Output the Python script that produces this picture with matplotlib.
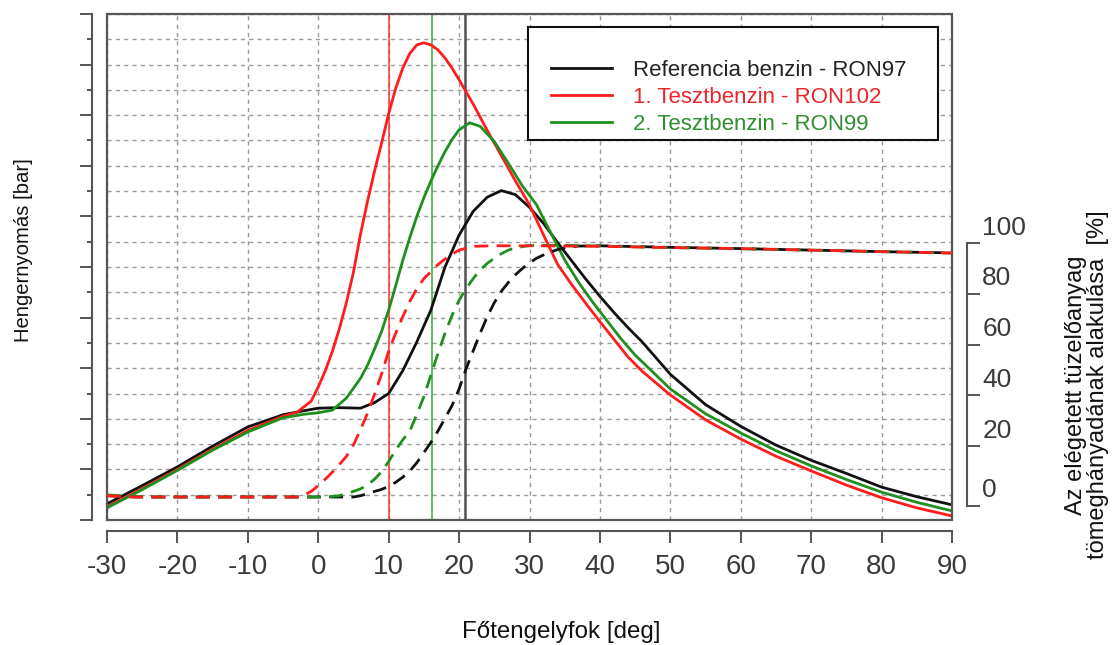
import matplotlib
matplotlib.use("Agg")
import matplotlib.pyplot as plt
from matplotlib.patches import Rectangle
from matplotlib.transforms import ScaledTranslation
from matplotlib.ticker import MultipleLocator

plt.rcParams['font.family'] = ['Liberation Sans', 'DejaVu Sans']
plt.rcParams['axes.unicode_minus'] = False

# ---------------- data ----------------
# Cylinder pressure (arbitrary units, axis unlabeled) vs crank angle [deg]
ref_p_deg = [-30, -25, -20, -15, -10, -5, -2, 0, 3, 6, 8, 10, 12, 14, 16, 18, 20, 22, 24, 26,
             28, 30, 32, 34, 36, 38, 40, 42, 44, 46, 50, 55, 60, 65, 70, 75, 80, 85, 90]
ref_p_val = [3.2, 6.8, 10.5, 14.6, 18.4, 20.8, 21.6, 22.1, 22.2, 22.1, 23.2, 25.0, 29.5, 35.2,
             41.5, 50.0, 56.3, 61.0, 63.8, 65.1, 64.3, 61.8, 58.6, 54.8, 51.2, 47.6, 44.2,
             41.0, 38.0, 35.2, 28.8, 22.8, 18.5, 14.8, 11.8, 9.2, 6.5, 4.6, 3.0]

t1_p_deg = [-30, -25, -20, -15, -10, -5, -3, -1, 0, 1, 2, 3, 4, 5, 6, 7, 8, 9, 10, 11, 12, 13,
            14, 15, 16, 17, 18, 19, 20, 21, 22, 24, 26, 28, 30, 32, 34, 36, 38, 40, 42, 44,
            46, 50, 55, 60, 65, 70, 75, 80, 85, 90]
t1_p_val = [2.6, 6.2, 10.0, 14.0, 17.7, 20.5, 21.3, 23.5, 26.3, 29.5, 33.3, 37.8, 43.0, 49.0,
            56.5, 63.0, 69.0, 74.5, 80.3, 85.3, 89.3, 92.2, 93.9, 94.3, 93.9, 92.9, 91.3, 89.3,
            87.0, 84.6, 82.2, 77.0, 72.0, 67.0, 62.3, 56.3, 50.5, 46.5, 42.8, 39.2, 35.7, 32.2,
            29.4, 24.7, 19.8, 16.0, 12.6, 9.7, 6.9, 4.4, 2.4, 0.8]

t2_p_deg = [-30, -25, -20, -15, -10, -5, -2, 0, 2, 4, 6, 7, 8, 9, 10, 11, 12, 13, 14, 15, 16,
            17, 18, 19, 20, 21.5, 23, 25, 27, 29, 31, 33, 35, 37, 39, 41, 43, 45, 50, 55, 60,
            65, 70, 75, 80, 85, 90]
t2_p_val = [2.4, 6.0, 9.8, 13.8, 17.4, 20.2, 20.9, 21.2, 21.7, 24.1, 28.0, 30.6, 33.8, 37.3,
            41.5, 46.3, 51.3, 55.8, 60.0, 63.7, 67.0, 70.0, 72.8, 75.2, 77.1, 78.5, 77.8, 74.8,
            70.5, 66.0, 62.3, 56.8, 51.4, 46.9, 43.0, 39.4, 35.8, 32.6, 25.9, 21.0, 17.2, 13.7,
            10.7, 8.0, 5.5, 3.5, 1.8]

# Burned mass fraction [%] vs crank angle [deg]
ref_x_deg = [-30, -26, 5, 6, 7, 8, 9, 10, 11, 12, 13, 14, 15, 16, 17, 18, 19, 20, 21, 22, 23,
             24, 25, 26, 27, 28, 29, 30, 31, 32, 33, 34, 35, 37, 40, 50, 60, 70, 80, 90]
ref_x_val = [0.5, 0.0, 0.0, 0.5, 1.3, 2.2, 3.0, 4.2, 5.8, 7.8, 10.2, 13.5, 17.5, 21.5, 26.0,
             31.0, 36.0, 42.5, 50.5, 57.5, 64.5, 71.0, 76.5, 81.0, 84.5, 87.5, 90.0, 92.2, 94.0,
             95.3, 96.5, 97.4, 98.1, 98.8, 98.9, 98.3, 97.8, 97.2, 96.6, 96.1]

t1_x_deg = [-30, -26, -3, -2, -1, 0, 1, 2, 3, 4, 5, 6, 7, 8, 9, 10, 11, 12, 13, 14, 15, 16, 17,
            18, 19, 20, 22, 25, 30, 40, 50, 60, 70, 80, 90]
t1_x_val = [0.5, 0.0, 0.0, 0.8, 2.2, 4.5, 7.0, 9.8, 12.8, 16.0, 20.5, 26.5, 33.0, 40.5, 48.5,
            57.5, 64.5, 71.0, 77.0, 82.0, 86.0, 88.7, 91.5, 93.7, 95.6, 97.2, 98.7, 98.9, 98.9,
            98.7, 98.2, 97.8, 97.2, 96.6, 96.1]

t2_x_deg = [-30, -26, -24, 1, 3, 5, 6, 7, 8, 9, 10, 11, 12, 13, 14, 15, 16, 17, 18, 19, 20, 21,
            22, 23, 24, 25, 26, 27, 28, 30, 35, 40, 50, 60, 70, 80, 90]
t2_x_val = [0.8, 0.3, 0.0, 0.0, 0.5, 2.2, 3.2, 4.8, 7.0, 10.0, 14.0, 18.5, 22.5, 26.0, 32.5,
            39.5, 48.0, 56.5, 64.5, 71.5, 77.5, 82.0, 86.0, 89.4, 92.0, 94.0, 95.8, 97.2, 98.1,
            99.0, 99.1, 98.8, 98.2, 97.7, 97.2, 96.6, 96.0]

# Vertical marker lines (crank angle [deg])
marker_degs = [10.0, 16.1, 20.85]

series_labels = ["Referencia benzin - RON97", "1. Tesztbenzin - RON102", "2. Tesztbenzin - RON99"]
x_ticks = [-30, -20, -10, 0, 10, 20, 30, 40, 50, 60, 70, 80, 90]
pct_tick_pos = [100, 80, 60, 40, 20, -3.5]
pct_tick_labels = ["100", "80", "60", "40", "20", "0"]

# ---------------- styling ----------------
C_BLACK = '#111111'
C_RED = '#ff1c1c'
C_GREEN = '#1f8f1f'
AX_COL = '#555555'
TXT_COL = '#3a3a3a'
LW = 2.0

fig = plt.figure(figsize=(11.13, 6.45), dpi=100)
ax = fig.add_axes([107 / 1113, 125 / 645, 845 / 1113, 506 / 645])
ax.set_xlim(-30, 90)
ax.set_ylim(0, 100)
ax.set_facecolor('white')

# grid
ax.set_xticks(x_ticks)
ax.yaxis.set_major_locator(MultipleLocator(10))
ax.yaxis.set_minor_locator(MultipleLocator(5))
ax.grid(True, which='both', axis='y', color='#9a9a9a', linestyle=(0, (3, 3)), linewidth=1.0)
ax.grid(True, which='major', axis='x', color='#9a9a9a', linestyle=(0, (3, 3)), linewidth=1.0)
ax.set_axisbelow(True)

# spines / separated axes
for s in ['top', 'right']:
    ax.spines[s].set_visible(False)
ax.spines['left'].set_position(('outward', 10.8))
ax.spines['bottom'].set_position(('outward', 7.9))
for s in ['left', 'bottom']:
    ax.spines[s].set_color(AX_COL)
    ax.spines[s].set_linewidth(1.5)
ax.tick_params(axis='y', which='major', length=8.5, width=1.4, color=AX_COL, labelleft=False)
ax.tick_params(axis='y', which='minor', length=3.5, width=1.4, color=AX_COL)
ax.tick_params(axis='x', which='major', length=8.5, width=1.4, color=AX_COL,
               labelsize=20, labelcolor=TXT_COL, pad=8)

# plot box
ax.add_patch(Rectangle((0, 0), 1, 1, transform=ax.transAxes, fill=False,
                       edgecolor=AX_COL, linewidth=1.6, clip_on=False, zorder=10))

# vertical markers
ax.axvline(marker_degs[0], color='#ff3030', linewidth=1.1, zorder=3)
ax.axvline(marker_degs[1], color='#35a835', linewidth=1.1, zorder=3)
ax.axvline(marker_degs[2], color='#505050', linewidth=1.8, zorder=3)

# pressure curves
l_ref, = ax.plot(ref_p_deg, ref_p_val, color=C_BLACK, linewidth=LW, zorder=4)
l_t1, = ax.plot(t1_p_deg, t1_p_val, color=C_RED, linewidth=LW, zorder=4)
l_t2, = ax.plot(t2_p_deg, t2_p_val, color=C_GREEN, linewidth=LW, zorder=4)

# burned fraction on twin axis
ax2 = ax.twinx()
ax2.set_ylim(-9.055, 190.16)
ax2.patch.set_visible(False)
for s in ['top', 'left', 'bottom']:
    ax2.spines[s].set_visible(False)
ax2.spines['right'].set_position(('outward', 10.8))
ax2.spines['right'].set_color(AX_COL)
ax2.spines['right'].set_linewidth(1.5)
ax2.spines['right'].set_bounds(-3.5, 100)
ax2.set_yticks(pct_tick_pos)
ax2.set_yticklabels(pct_tick_labels)
ax2.tick_params(axis='y', length=9, width=1.4, color=AX_COL, labelsize=19,
                labelcolor=TXT_COL, pad=2)
shift = ScaledTranslation(0, 18 / 100, fig.dpi_scale_trans)
for t in ax2.yaxis.get_major_ticks():
    t.label2.set_transform(t.label2.get_transform() + shift)

dash = (0, (5, 3))
ax2.plot(ref_x_deg, ref_x_val, color=C_BLACK, linewidth=LW, linestyle=dash, zorder=4)
ax2.plot(t2_x_deg, t2_x_val, color=C_GREEN, linewidth=LW, linestyle=dash, zorder=4)
ax2.plot(t1_x_deg, t1_x_val, color=C_RED, linewidth=LW, linestyle=dash, zorder=4)

# legend
ax2.add_patch(Rectangle((0.4982, 0.751), 0.4852, 0.2233, transform=ax2.transAxes,
                        facecolor='white', edgecolor='#111111', linewidth=1.5, zorder=8))
leg = ax2.legend([l_ref, l_t1, l_t2], series_labels, loc='upper left',
                 bbox_to_anchor=(0.5254, 0.909), frameon=False, fontsize=16,
                 handlelength=2.75, handletextpad=0.95, labelspacing=0.27,
                 borderpad=0, borderaxespad=0,
                 labelcolor=['#222222', '#e8262b', '#2f8f2f'])
leg.set_zorder(9)

# axis titles
fig.text(24 / 1113, 1 - 250 / 645, "Hengernyomás [bar]", rotation=90, ha='center',
         va='center', fontsize=14.6, color='#111111')
fig.text(1087 / 1113, 1 - 385 / 645, "Az elégetett tüzelőanyag\ntömeghányadának alakulása  [%]",
         rotation=90, ha='center', va='center', fontsize=17, color='#111111', linespacing=1.0)
fig.text(561 / 1113, 1 - 632 / 645, "Főtengelyfok [deg]", ha='center', va='center',
         fontsize=17.4, color='#111111')

fig.savefig("out.png", dpi=100, facecolor='white')
